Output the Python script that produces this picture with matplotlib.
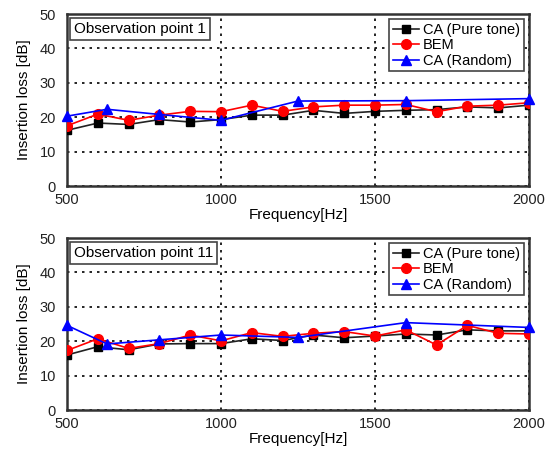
import matplotlib
matplotlib.use("Agg")
import matplotlib.pyplot as plt

plt.rcParams['font.family'] = ['Liberation Sans', 'DejaVu Sans']

freq = [500, 600, 700, 800, 900, 1000, 1100, 1200, 1300, 1400, 1500, 1600, 1700, 1800, 1900, 2000]
freq_rand = [500, 630, 800, 1000, 1250, 1600, 2000]

p1_ca_pure = [16.2, 18.3, 17.9, 19.3, 18.6, 19.3, 20.6, 20.6, 22.0, 21.1, 21.7, 22.0, 22.2, 23.0, 22.7, 23.5]
p1_bem = [17.5, 20.9, 19.1, 20.6, 21.7, 21.6, 23.5, 21.7, 23.0, 23.5, 23.5, 23.7, 21.6, 23.2, 23.5, 24.2]
p1_ca_rand = [20.3, 22.3, 20.8, 19.1, 24.7, 24.8, 25.4]

p11_ca_pure = [16.0, 18.4, 17.5, 19.2, 19.3, 19.3, 20.7, 20.2, 21.8, 21.0, 21.5, 22.1, 21.8, 23.3, 23.0, 23.0]
p11_bem = [17.3, 20.7, 17.9, 19.3, 21.8, 20.1, 22.5, 21.4, 22.3, 22.8, 21.5, 23.3, 18.9, 24.6, 22.3, 22.1]
p11_ca_rand = [24.6, 19.2, 20.4, 21.8, 21.1, 25.4, 24.0]

titles = ["Observation point 1", "Observation point 11"]
labels = ["CA (Pure tone)", "BEM", "CA (Random)"]
xticks = [500, 1000, 1500, 2000]
yticks = [0, 10, 20, 30, 40, 50]

fig = plt.figure(figsize=(5.45, 4.54), dpi=100)
W, H = 545, 454
boxes = [(67, 14, 529, 186), (67, 238, 529, 410)]
data = [(p1_ca_pure, p1_bem, p1_ca_rand), (p11_ca_pure, p11_bem, p11_ca_rand)]

for (l, t, r, b), (pure, bem, rand), title in zip(boxes, data, titles):
    ax = fig.add_axes([l / W, 1 - b / H, (r - l) / W, (b - t) / H])
    ax.plot(freq, pure, color='#222222', lw=1.2, marker='s', ms=6, mfc='black', mec='black', label=labels[0], zorder=3)
    ax.plot(freq, bem, color='red', lw=1.2, marker='o', ms=7, mfc='red', mec='red', label=labels[1], zorder=4)
    ax.plot(freq_rand, rand, color='blue', lw=1.2, marker='^', ms=7.5, mfc='blue', mec='blue', label=labels[2], zorder=5, clip_on=False)
    ax.set_xlim(500, 2000)
    ax.set_ylim(0, 50)
    ax.set_xticks(xticks)
    ax.set_yticks(yticks)
    ax.tick_params(labelsize=10.5, length=0, labelcolor='#222222')
    ax.tick_params(axis='x', pad=5)
    ax.tick_params(axis='y', pad=8)
    ax.grid(True, linestyle=(0, (1.5, 3)), color='black', lw=1.2)
    for s in ax.spines.values():
        s.set_linewidth(1.8)
        s.set_color('#333333')
    ax.set_xlabel("Frequency[Hz]", fontsize=11, labelpad=1)
    ax.set_ylabel("Insertion loss [dB]", fontsize=11, labelpad=6)
    ax.text(0.015, 0.955, title, transform=ax.transAxes, fontsize=11, va='top', ha='left',
            bbox=dict(boxstyle='square,pad=0.25', fc='white', ec='#444444', lw=1.2), zorder=6)
    leg = ax.legend(loc='upper right', fontsize=10.5, handlelength=1.8, handletextpad=0.3,
                    borderpad=0.25, labelspacing=0.1, fancybox=False, framealpha=1,
                    edgecolor='#444444', borderaxespad=0.35)
    leg.get_frame().set_linewidth(1.2)

fig.savefig("out.png", dpi=100)
